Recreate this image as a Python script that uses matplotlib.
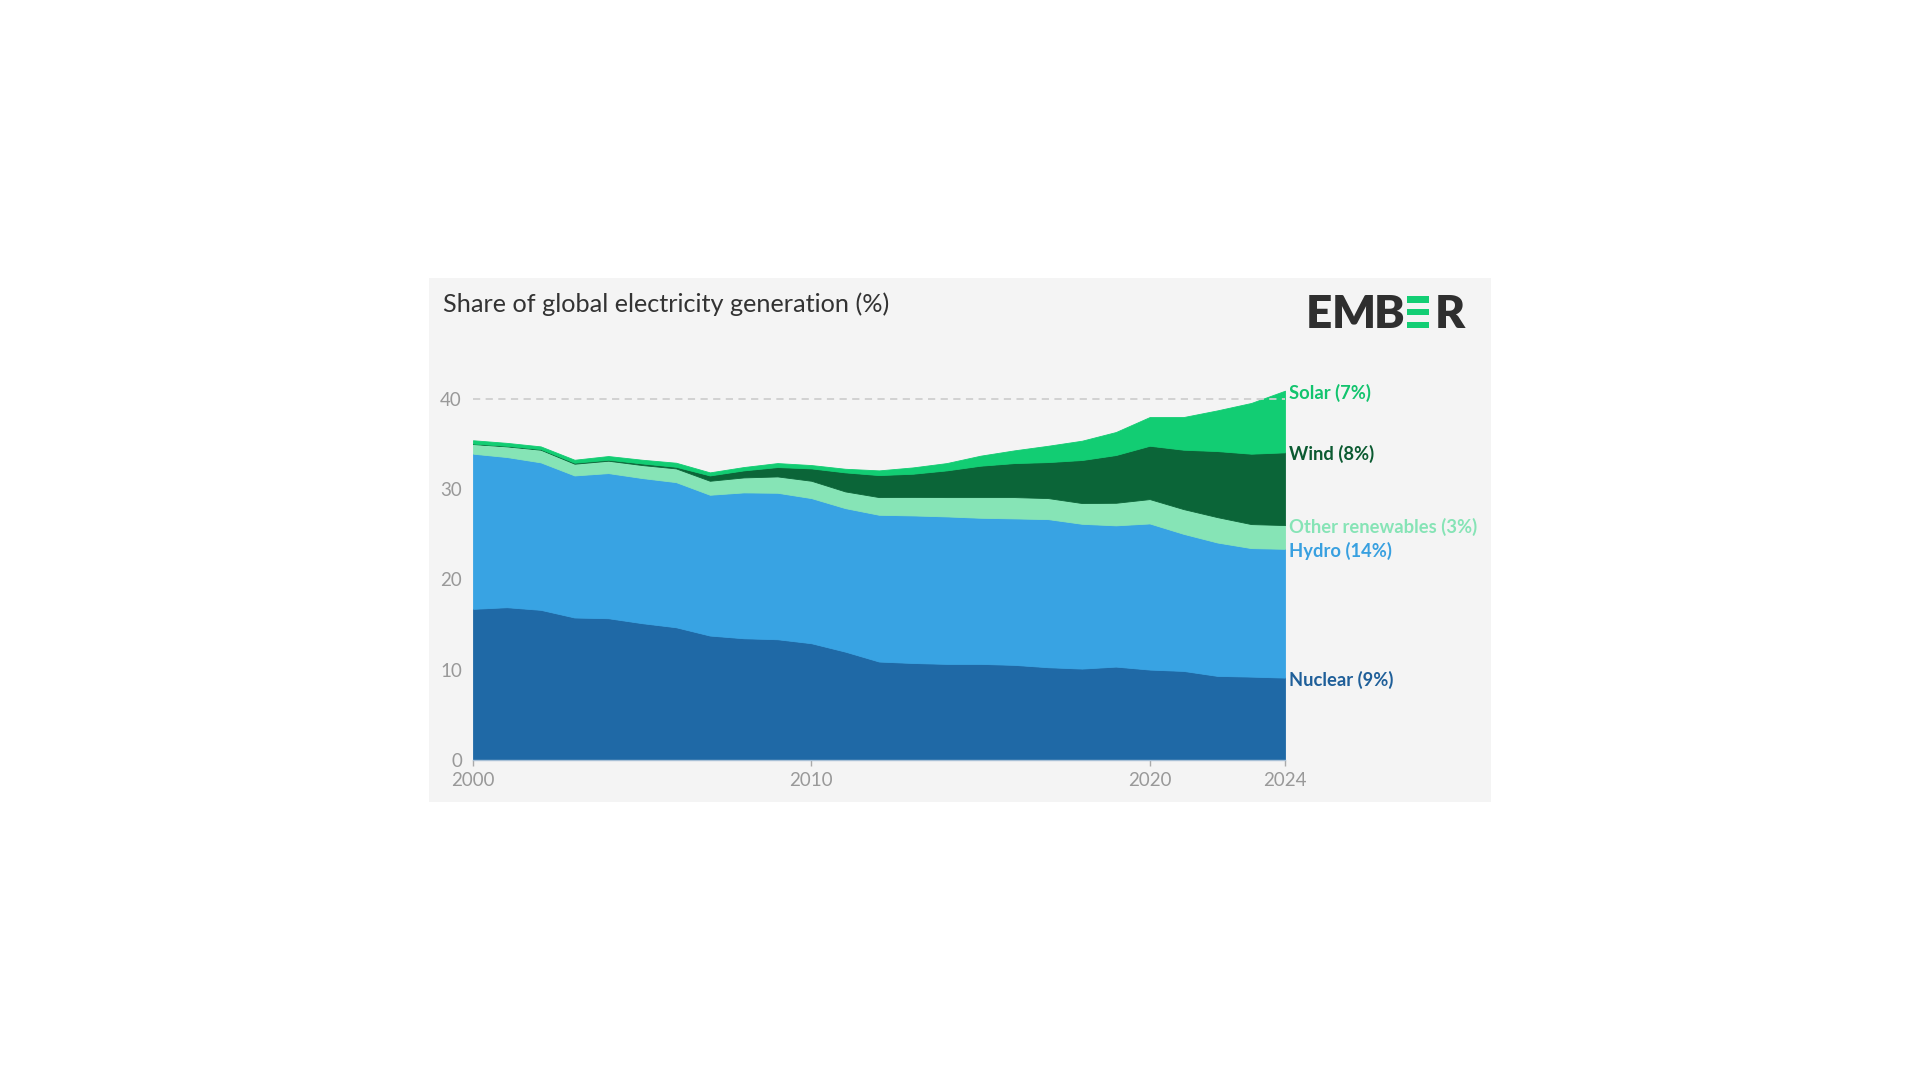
import numpy as np
import matplotlib.pyplot as plt
from matplotlib.patches import Rectangle

plt.rcParams['font.family'] = ['Lato', 'DejaVu Sans']

# Share of global electricity generation (%)
years = list(range(2000, 2025))
nuclear = [16.75, 16.93, 16.64, 15.79, 15.71, 15.16, 14.71, 13.79, 13.49, 13.38,
           12.94, 12.01, 10.91, 10.75, 10.65, 10.65, 10.54, 10.28, 10.13, 10.35,
           10.02, 9.87, 9.32, 9.24, 9.13]
hydro = [17.19, 16.64, 16.34, 15.74, 16.08, 16.08, 16.08, 15.60, 16.16, 16.23,
         16.08, 15.90, 16.26, 16.35, 16.34, 16.19, 16.23, 16.41, 16.04, 15.65,
         16.19, 15.19, 14.78, 14.24, 14.27]
other_renewables = [1.07, 1.18, 1.40, 1.30, 1.37, 1.44, 1.52, 1.55, 1.66, 1.81,
                    1.92, 1.85, 1.96, 2.05, 2.14, 2.29, 2.36, 2.33, 2.30, 2.50,
                    2.70, 2.74, 2.81, 2.66, 2.63]
wind = [0.05, 0.06, 0.07, 0.11, 0.11, 0.18, 0.18, 0.59, 0.78, 1.04,
        1.37, 2.11, 2.44, 2.57, 2.96, 3.48, 3.77, 3.99, 4.77, 5.29,
        5.91, 6.58, 7.32, 7.80, 8.06]
solar = [0.37, 0.33, 0.30, 0.33, 0.41, 0.41, 0.45, 0.34, 0.37, 0.44,
         0.37, 0.40, 0.52, 0.70, 0.81, 1.11, 1.41, 1.81, 2.14, 2.55,
         3.18, 3.62, 4.51, 5.62, 6.83]

series_names = ["Nuclear (9%)", "Hydro (14%)", "Other renewables (3%)",
                "Wind (8%)", "Solar (7%)"]
series_values = [nuclear, hydro, other_renewables, wind, solar]
fill_colors = ["#1f69a6", "#38a3e3", "#86e4b6", "#0b6538", "#12cd73"]
label_colors = ["#1f5f99", "#38a0e0", "#86e4b6", "#0b5a31", "#12c46e"]

x_ticks = [2000, 2010, 2020, 2024]
y_ticks = [0, 10, 20, 30, 40]

W, H = 1920, 1080


def fx(x):
    return x / W


def fy(y):
    return 1 - y / H


fig = plt.figure(figsize=(19.2, 10.8), dpi=100)
fig.patch.set_facecolor("white")

# grey card behind the chart
fig.patches.append(Rectangle((fx(429), fy(802)), (1491 - 429) / W, (802 - 278) / H,
                             transform=fig.transFigure, facecolor="#f4f4f4",
                             edgecolor="none", zorder=-10))

fig.text(fx(443), fy(304), "Share of global electricity generation (%)",
         fontsize=18.2, color="#333333", ha="left", va="center")

# EMBER logo: letters + green bars in place of the second E
logo_base = fy(328)
for ch, xl in [("E", 1306), ("M", 1332), ("B", 1374), ("R", 1435)]:
    fig.text(fx(xl), logo_base, ch, fontsize=33, fontweight="heavy",
             color="#2f2f2f", ha="left", va="baseline")
for top, bot in [(296, 302.5), (308.7, 315), (321.5, 328)]:
    fig.patches.append(Rectangle((fx(1407), fy(bot)), (1429 - 1407) / W, (bot - top) / H,
                                 transform=fig.transFigure, facecolor="#13ce74",
                                 edgecolor="none", zorder=3))

# axes: 2000 at x=473, 2024 at x=1285, 0 at y=760, 9.025 px per point
ymax = 45
ax = fig.add_axes([fx(473), fy(760), (1285 - 473) / W, ymax * 9.025 / H])
ax.set_facecolor("none")
ax.set_zorder(1)

base = np.zeros(len(years))
tops = []
for vals, col in zip(series_values, fill_colors):
    top = base + np.array(vals)
    ax.fill_between(years, base, top, facecolor=col, edgecolor=col, linewidth=0.6, zorder=2)
    tops.append(top[-1])
    base = top

# dashed reference line at 40
ax.plot([2000, 2024], [40, 40], color="#cfcfcf", linewidth=1.3,
        linestyle=(0, (4, 3)), zorder=4)

for name, col, yv in zip(series_names, label_colors, tops):
    ax.annotate(name, xy=(2024, yv), xytext=(3, -1.5), textcoords="offset points",
                ha="left", va="center", fontsize=13.2, fontweight="bold", color=col,
                annotation_clip=False)

ax.set_xlim(2000, 2024)
ax.set_ylim(0, ymax)
ax.set_xticks(x_ticks)
ax.set_xticklabels([str(t) for t in x_ticks])
ax.set_yticks(y_ticks)
ax.tick_params(axis="x", length=4, width=1, color="#aaaaaa", pad=5,
               labelsize=13.5, labelcolor="#999999")
ax.tick_params(axis="y", length=0, pad=8, labelsize=13.5, labelcolor="#999999")
for s in ["top", "right", "left"]:
    ax.spines[s].set_visible(False)
ax.spines["bottom"].set_color("#a8c0d6")
ax.spines["bottom"].set_linewidth(1)
ax.spines["bottom"].set_zorder(3)

fig.savefig("out.png", dpi=100, facecolor=fig.get_facecolor())
